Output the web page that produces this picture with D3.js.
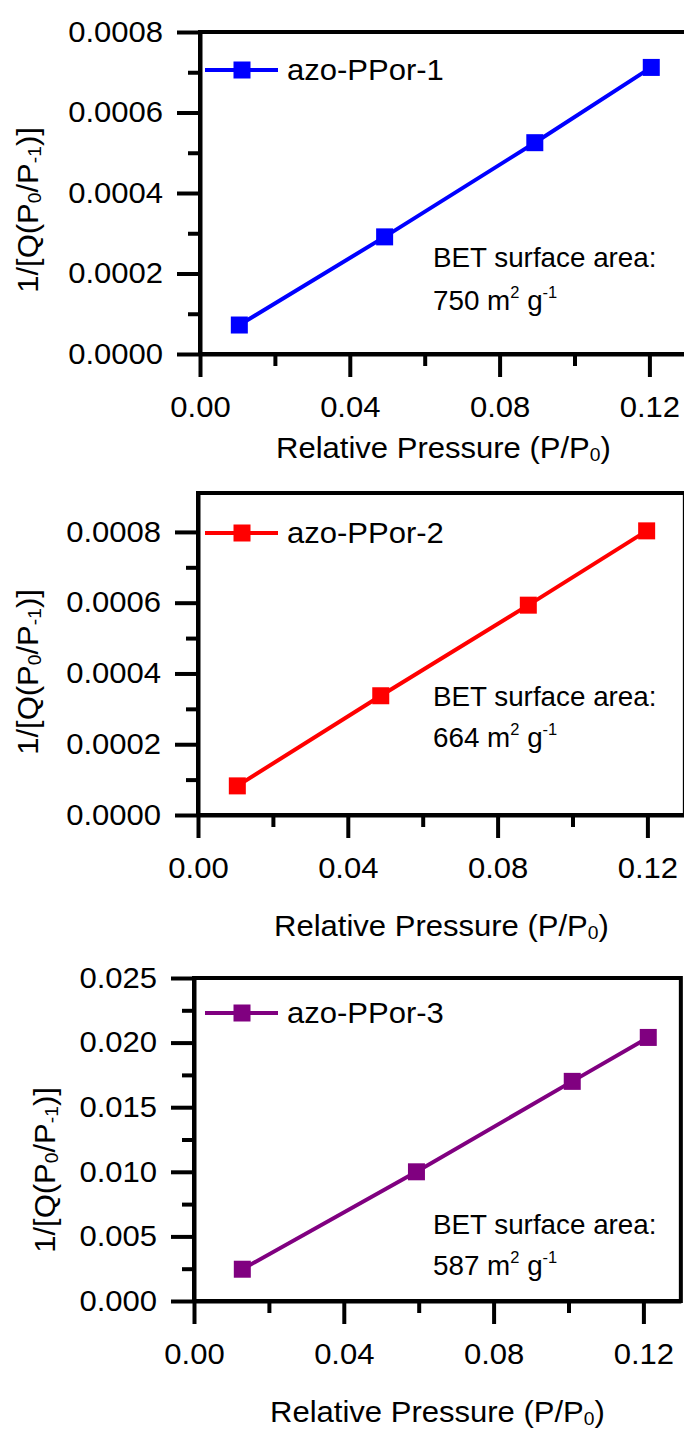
<!DOCTYPE html>
<html>
<head>
<meta charset="utf-8">
<script src="https://cdn.jsdelivr.net/npm/d3@7"></script>
<style>
  html, body { margin: 0; padding: 0; background: #fff; }
  svg { display: block; }
  text { font-family: "Liberation Sans", Arial, sans-serif; fill: #000; }
</style>
</head>
<body>
<svg id="chart" width="684" height="1430"></svg>
<script>
// Data
const seriesNames = ['azo-PPor-1', 'azo-PPor-2', 'azo-PPor-3'];
const seriesColors = ['#0000ff', '#ff0000', '#800080'];
const surfaceAreas = ['750', '664', '587'];

const pressure1 = [0.0105, 0.0493, 0.0894, 0.1205];
const bet1 = [0.000072, 0.000291, 0.000525, 0.000712];
const pressure2 = [0.0105, 0.0488, 0.0882, 0.1198];
const bet2 = [0.0000823, 0.000337, 0.000593, 0.000803];
const pressure3 = [0.0129, 0.0594, 0.101, 0.1213];
const bet3 = [0.00246, 0.0100, 0.0170, 0.0204];

const xMajorTicks = [0, 0.04, 0.08, 0.12];
const xMinorTicks = [0.02, 0.06, 0.10];
const yMajorTicks12 = [0, 0.0002, 0.0004, 0.0006, 0.0008];
const yMinorTicks12 = [0.0001, 0.0003, 0.0005, 0.0007];
const yMajorTicks3 = [0, 0.005, 0.010, 0.015, 0.020, 0.025];
const yMinorTicks3 = [0.0025, 0.0075, 0.0125, 0.0175, 0.0225];

// Layout for each panel
const panels = [
    { x: pressure1, y: bet1, left: 200, top: 32, bottom: 354, yMax: 0.0008,
      yMajor: yMajorTicks12, yMinor: yMinorTicks12, fmt: '.4f',
      yTitle: [38, 210], betY: [267, 310], legendY: 70, xTitleGap: 104 },
    { x: pressure2, y: bet2, left: 198, top: 493, bottom: 815, yMax: 0.00091,
      yMajor: yMajorTicks12, yMinor: yMinorTicks12, fmt: '.4f',
      yTitle: [38, 672], betY: [706, 747], legendY: 533, xTitleGap: 121 },
    { x: pressure3, y: bet3, left: 194, top: 978, bottom: 1301, yMax: 0.025,
      yMajor: yMajorTicks3, yMinor: yMinorTicks3, fmt: '.3f',
      yTitle: [55, 1170], betY: [1234, 1275], legendY: 1013, xTitleGap: 121 }
];

const SX = 1.07;          // horizontal stretch of the text
const FONT = 29;
const BET_FONT = 27;
const BET_SX = 1.03;
const AXIS_W = 4;
const LINE_W = 4;
const PX_PER_X = 3745;    // pixels per unit of P/P0

const svg = d3.select('#chart');

function drawPanel(p, i) {
    const color = seriesColors[i];
    const x = d3.scaleLinear().domain([0, 0.13]).range([p.left, p.left + 0.13 * PX_PER_X]);
    const y = d3.scaleLinear().domain([0, p.yMax]).range([p.bottom, p.top]);
    const g = svg.append('g');

    // frame (top and right)
    g.append('rect')
        .attr('x', x(0)).attr('y', y(p.yMax))
        .attr('width', x(0.13) - x(0)).attr('height', y(0) - y(p.yMax))
        .attr('fill', 'none').attr('stroke', '#000').attr('stroke-width', AXIS_W);

    // minor ticks
    g.append('g')
        .attr('transform', `translate(0,${y(0)})`)
        .call(d3.axisBottom(x).tickValues(xMinorTicks).tickSize(12).tickSizeOuter(0).tickFormat(''))
        .call(s => s.select('.domain').remove());
    g.append('g')
        .attr('transform', `translate(${x(0)},0)`)
        .call(d3.axisLeft(y).tickValues(p.yMinor).tickSize(12).tickSizeOuter(0).tickFormat(''))
        .call(s => s.select('.domain').remove());

    // major ticks and labels
    const xAxis = g.append('g')
        .attr('transform', `translate(0,${y(0)})`)
        .call(d3.axisBottom(x).tickValues(xMajorTicks).tickSize(23).tickPadding(19)
            .tickSizeOuter(0).tickFormat(d3.format('.2f')));
    xAxis.selectAll('text').attr('transform', `scale(${SX},1)`);

    const yAxis = g.append('g')
        .attr('transform', `translate(${x(0)},0)`)
        .call(d3.axisLeft(y).tickValues(p.yMajor).tickSize(23).tickPadding(14)
            .tickSizeOuter(0).tickFormat(d3.format(p.fmt)));
    yAxis.selectAll('text')
        .attr('x', 0)
        .attr('transform', `translate(-37,0) scale(${SX},1)`);

    g.selectAll('.domain, .tick line').attr('stroke', '#000').attr('stroke-width', AXIS_W);
    g.selectAll('.tick text').style('font-size', FONT + 'px').style('font-family', null);

    // data line and squares
    const pts = p.x.map((v, k) => [v, p.y[k]]);
    g.append('path')
        .datum(pts)
        .attr('fill', 'none')
        .attr('stroke', color)
        .attr('stroke-width', LINE_W)
        .attr('d', d3.line().x(d => x(d[0])).y(d => y(d[1])));
    g.selectAll('rect.pt')
        .data(pts)
        .join('rect')
        .attr('class', 'pt')
        .attr('x', d => x(d[0]) - 8.5).attr('y', d => y(d[1]) - 8.5)
        .attr('width', 17).attr('height', 17)
        .attr('fill', color);

    // legend
    const lg = g.append('g').attr('transform', `translate(0,${p.legendY})`);
    lg.append('line').attr('x1', 205).attr('x2', 278)
        .attr('stroke', color).attr('stroke-width', LINE_W);
    lg.append('rect').attr('x', 242 - 8.5).attr('y', -8.5)
        .attr('width', 17).attr('height', 17).attr('fill', color);
    lg.append('text')
        .attr('transform', `translate(287,10) scale(${SX},1)`)
        .style('font-size', FONT + 'px')
        .text(seriesNames[i]);

    // BET annotation
    g.append('text')
        .attr('transform', `translate(433,${p.betY[0]}) scale(${BET_SX},1)`)
        .style('font-size', BET_FONT + 'px')
        .text('BET surface area:');
    const t2 = g.append('text')
        .attr('transform', `translate(433,${p.betY[1]}) scale(${BET_SX},1)`)
        .style('font-size', BET_FONT + 'px');
    t2.append('tspan').text(surfaceAreas[i] + ' m');
    t2.append('tspan').attr('dy', -12).style('font-size', '16px').text('2');
    t2.append('tspan').attr('dy', 12).text(' g');
    t2.append('tspan').attr('dy', -12).style('font-size', '16px').text('-1');

    // x title
    const xt = g.append('text')
        .attr('transform', `translate(${(x(0) + x(0.13)) / 2},${y(0) + p.xTitleGap}) scale(${SX},1)`)
        .attr('text-anchor', 'middle')
        .style('font-size', FONT + 'px');
    xt.append('tspan').text('Relative Pressure (P/P');
    xt.append('tspan').attr('dy', 3).style('font-size', '18px').text('0');
    xt.append('tspan').attr('dy', -3).text(')');

    // y title
    const yt = g.append('text')
        .attr('transform', `translate(${p.yTitle[0]},${p.yTitle[1]}) rotate(-90) scale(${SX},1)`)
        .attr('text-anchor', 'middle')
        .style('font-size', FONT + 'px');
    yt.append('tspan').text('1/[Q(P');
    yt.append('tspan').attr('dy', 3).style('font-size', '18px').text('0');
    yt.append('tspan').attr('dy', -3).text('/P');
    yt.append('tspan').attr('dy', 3).style('font-size', '18px').text('-1');
    yt.append('tspan').attr('dy', -3).text(')]');
}

panels.forEach(drawPanel);
</script>
</body>
</html>
